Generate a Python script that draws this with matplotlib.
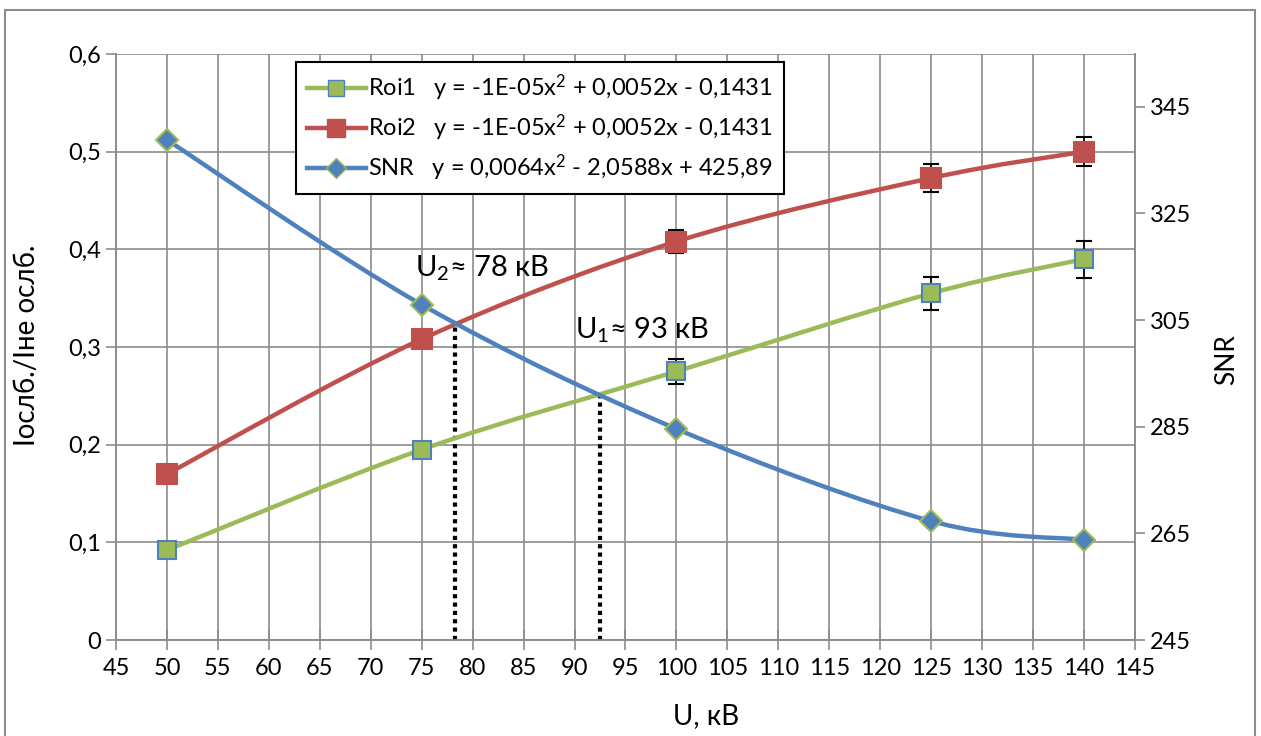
import matplotlib
matplotlib.use("Agg")
import matplotlib.pyplot as plt
import numpy as np
from matplotlib.lines import Line2D
from matplotlib.patches import PathPatch, Rectangle
from matplotlib.path import Path

plt.rcParams["font.family"] = ["Lato", "DejaVu Sans"]
plt.rcParams["mathtext.fontset"] = "custom"
plt.rcParams["mathtext.rm"] = "Lato"
plt.rcParams["mathtext.default"] = "regular"

VOLTAGE = [50, 75, 100, 125, 140]
ROI1 = [0.092, 0.195, 0.275, 0.355, 0.390]
ROI1_ERR = [0.004, 0.005, 0.013, 0.017, 0.019]
ROI2 = [0.170, 0.308, 0.408, 0.473, 0.500]
ROI2_ERR = [0.004, 0.005, 0.012, 0.014, 0.015]
SNR = [338.8, 307.9, 284.6, 267.3, 263.8]

U_MARKS = [78.3, 92.5]
U_MARK_TOPS = [0.322, 0.252]

LEGEND_LABELS = [
    "Roi1   y = -1E-05x$^2$ + 0,0052x - 0,1431",
    "Roi2   y = -1E-05x$^2$ + 0,0052x - 0,1431",
    "SNR   y = 0,0064x$^2$ - 2,0588x + 425,89",
]

GREEN = "#9BBB59"
RED = "#C0504D"
BLUE = "#4F81BD"
GRID = "#8C8C8C"


def smooth_path(xs, ys):
    # Excel-like smoothed line: Catmull-Rom segments as cubic Bezier
    pts = np.column_stack([xs, ys]).astype(float)
    ext = np.vstack([pts[0], pts, pts[-1]])
    verts = [tuple(pts[0])]
    codes = [Path.MOVETO]
    for i in range(1, len(ext) - 2):
        p0, p1, p2, p3 = ext[i - 1], ext[i], ext[i + 1], ext[i + 2]
        c1 = p1 + (p2 - p0) / 6.0
        c2 = p2 - (p3 - p1) / 6.0
        verts += [tuple(c1), tuple(c2), tuple(p2)]
        codes += [Path.CURVE4] * 3
    return Path(verts, codes)


fig = plt.figure(figsize=(12.61, 7.36), dpi=100)
ax = fig.add_axes([0.092, 0.1304, 0.808, 0.7962])
ax2 = ax.twinx()

fig.patches.append(Rectangle((5 / 1261, -0.02), 1250 / 1261, 1.02 - 10 / 736,
                             transform=fig.transFigure, fill=False,
                             edgecolor="#8C8C8C", linewidth=1.5))

ax.set_xlim(45, 145)
ax.set_ylim(0, 0.6)
ax2.set_ylim(245, 354.9)
ax.set_xticks(np.arange(45, 146, 5))
ax.set_yticks(np.arange(0, 0.61, 0.1))
ax.set_yticklabels(["0"] + [f"0,{i}" for i in range(1, 7)])
ax2.set_yticks(np.arange(245, 346, 20))

ax.grid(True, color=GRID, linewidth=1.2)
ax.set_axisbelow(True)
for a in (ax, ax2):
    for s in a.spines.values():
        s.set_color(GRID)
        s.set_linewidth(1.2)
    a.spines["top"].set_visible(False)
ax.tick_params(axis="both", colors=GRID, labelcolor="black", labelsize=17,
               length=7, width=1.2)
ax.tick_params(axis="x", direction="inout", length=14, pad=6)
ax2.tick_params(axis="y", colors=GRID, labelcolor="black", labelsize=17,
                length=7, width=1.2)

# curves
ax.add_patch(PathPatch(smooth_path(VOLTAGE, ROI1), fill=False, edgecolor=GREEN,
                       linewidth=3.2, zorder=3))
ax.add_patch(PathPatch(smooth_path(VOLTAGE, ROI2), fill=False, edgecolor=RED,
                       linewidth=3.2, zorder=3))
ax2.add_patch(PathPatch(smooth_path(VOLTAGE, SNR), fill=False, edgecolor=BLUE,
                        linewidth=3.2, zorder=3))

ax.errorbar(VOLTAGE, ROI1, yerr=ROI1_ERR, fmt="none", ecolor="black",
            elinewidth=1.2, capsize=6, capthick=1.5, zorder=4)
ax.errorbar(VOLTAGE, ROI2, yerr=ROI2_ERR, fmt="none", ecolor="black",
            elinewidth=1.2, capsize=6, capthick=1.5, zorder=4)
ax.plot(VOLTAGE, ROI1, linestyle="none", marker="s", markersize=13,
        markerfacecolor=GREEN, markeredgecolor=BLUE, markeredgewidth=1.5, zorder=5)
ax.plot(VOLTAGE, ROI2, linestyle="none", marker="s", markersize=14,
        markerfacecolor=RED, markeredgecolor=RED, markeredgewidth=1.5, zorder=5)
ax2.plot(VOLTAGE, SNR, linestyle="none", marker="D", markersize=11,
         markerfacecolor=BLUE, markeredgecolor=GREEN, markeredgewidth=1.5, zorder=5)

for xm, top in zip(U_MARKS, U_MARK_TOPS):
    ax.plot([xm, xm], [0, top], color="black", linestyle=(0, (1, 1)),
            linewidth=3, zorder=2)

ax.text(74.3, 0.381, "U$_2$≈ 78 кВ", fontsize=21, va="center", ha="left", zorder=6)
ax.text(90.0, 0.317, "U$_1$≈ 93 кВ", fontsize=21, va="center", ha="left", zorder=6)

ax.set_xlabel("U, кВ", fontsize=20)
ax.xaxis.set_label_coords(0.579, -0.108)
ax.set_ylabel("Іослб./Іне ослб.", fontsize=20)
ax.yaxis.set_label_coords(-0.075, 0.503)
ax2.set_ylabel("SNR", fontsize=19)
ax2.yaxis.set_label_coords(1.078, 0.478)

handles = [
    Line2D([], [], color=GREEN, linewidth=3.2, marker="s", markersize=12,
           markerfacecolor=GREEN, markeredgecolor=BLUE),
    Line2D([], [], color=RED, linewidth=3.2, marker="s", markersize=13,
           markerfacecolor=RED, markeredgecolor=RED),
    Line2D([], [], color=BLUE, linewidth=3.2, marker="D", markersize=10,
           markerfacecolor=BLUE, markeredgecolor=GREEN),
]
leg = ax2.legend(handles, LEGEND_LABELS, loc="upper left",
                 bbox_to_anchor=(0.177, 0.986), borderaxespad=0, fontsize=17,
                 fancybox=False, framealpha=1, edgecolor="black",
                 handlelength=2.5, handletextpad=0.1, borderpad=0.45,
                 labelspacing=0.4)
leg.get_frame().set_linewidth(1.5)
leg.set_zorder(10)

fig.savefig("out.png", dpi=100)
